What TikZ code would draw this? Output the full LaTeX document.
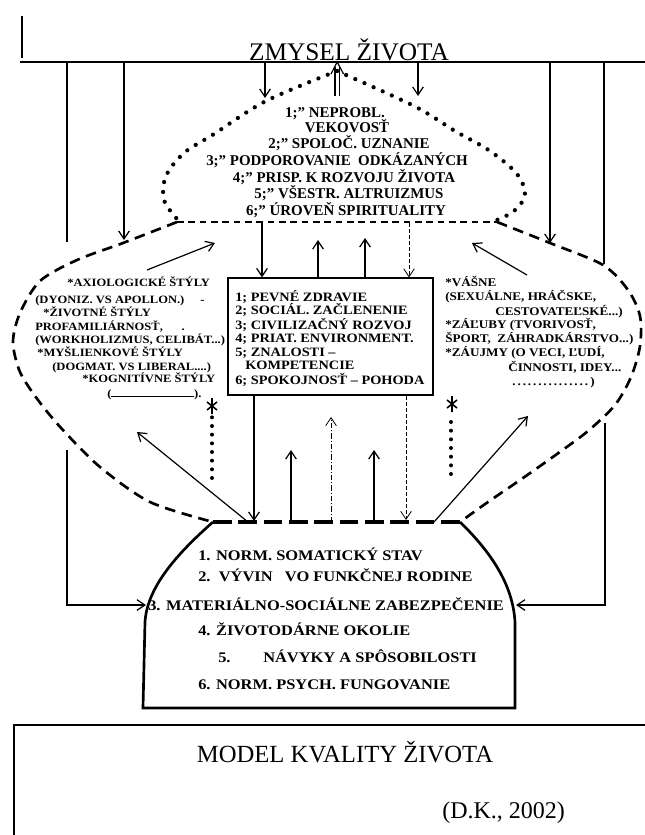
\documentclass[tikz,border=0pt]{standalone}
\usepackage{fontspec}
\setmainfont{Liberation Serif}
\newfontfamily\wf[FakeStretch=1.12]{Liberation Serif}
\usetikzlibrary{arrows.meta}
\begin{document}
\begin{tikzpicture}[x=0.75pt,y=-0.75pt,
  ln/.style={line width=0.9pt},
  arr/.style={line width=0.9pt,-{Straight Barb[length=6pt,width=8pt]}},
  farr/.style={line width=0.6pt,dash pattern=on 3pt off 1.5pt,-{Straight Barb[length=6pt,width=8pt]}},
  darr/.style={line width=0.6pt,dash pattern=on 4pt off 1.5pt on 0.8pt off 1.5pt,-{Straight Barb[length=6pt,width=8pt]}},
  hatdots/.style={line width=3.2pt,line cap=round,dash pattern=on 0pt off 7.5pt},
  vdots/.style={line width=3pt,line cap=round,dash pattern=on 0pt off 6.5pt},
  hatbase/.style={line width=2pt,dash pattern=on 5pt off 3.5pt},
  bigdash/.style={line width=2pt,dash pattern=on 8pt off 5pt},
  bottop/.style={line width=2.6pt,dash pattern=on 14pt off 5pt},
  botline/.style={line width=2pt},
  starln/.style={line width=1.2pt},
  ttl/.style={font=\fontsize{19}{21}\selectfont,anchor=base,inner sep=0},
  hatt/.style={font=\fontsize{11.2}{12}\selectfont\bfseries,anchor=base,inner sep=0},
  boxt/.style={font=\wf\fontsize{9.6}{11}\selectfont\bfseries,anchor=base west,inner sep=0},
  sidet/.style={font=\wf\fontsize{8.4}{10}\selectfont\bfseries,anchor=base west,inner sep=0},
  sider/.style={font=\wf\fontsize{8.8}{10}\selectfont\bfseries,anchor=base west,inner sep=0},
  bott/.style={font=\wf\fontsize{11}{12}\selectfont\bfseries,anchor=base west,inner sep=0}
]
\fill[white] (0,0) rectangle (645,835);
\useasboundingbox (0,0) rectangle (645,835);

% top frame
\coordinate (tl0) at (22,16); \coordinate (tl1) at (22,58);
\coordinate (hl0) at (20,62); \coordinate (hl1) at (645,62);
\draw[ln] (tl0) -- (tl1);
\draw[ln] (hl0) -- (hl1);
\node[ttl] (zmysel) at (349,60) {ZMYSEL ŽIVOTA};

% lines from top
\coordinate (a1s) at (67,62);  \coordinate (a1e) at (67,242);
\coordinate (a2s) at (124,62); \coordinate (a2e) at (124,240);
\coordinate (a3s) at (265,62); \coordinate (a3e) at (265,98);
\coordinate (a4s) at (418,62); \coordinate (a4e) at (418,96);
\coordinate (a5s) at (550,62); \coordinate (a5e) at (550,243);
\coordinate (a6s) at (604,62); \coordinate (a6e) at (604,264);
\draw[ln] (a1s) -- (a1e);
\draw[arr] (a2s) -- (a2e);
\draw[arr] (a3s) -- (a3e);
\draw[arr] (a4s) -- (a4e);
\draw[arr] (a5s) -- (a5e);
\draw[ln] (a6s) -- (a6e);

% double up arrow
\coordinate (u1) at (335,96); \coordinate (u2) at (335,67);
\coordinate (u3) at (339.5,96); \coordinate (u4) at (339.5,67);
\coordinate (uh1) at (331,74); \coordinate (uh) at (337.2,62); \coordinate (uh2) at (343.5,74);
\draw[ln] (u1) -- (u2);
\draw[ln] (u3) -- (u4);
\draw[ln] (uh1) -- (uh) -- (uh2);

% dotted hat
\draw[hatdots] plot[smooth,tension=0.55] coordinates {(337,71) (266,101) (214,134) (184,153) (166,176) (164,200) (177,219)};
\draw[hatdots] plot[smooth,tension=0.55] coordinates {(337,71) (414,106) (455,131) (490,151) (517,174) (525,195) (514,211) (497,220)};
\coordinate (hb0) at (177,222); \coordinate (hb1) at (497,222);
\draw[hatbase] (hb0) -- (hb1);

% hat text
\node[hatt] (h1) at (335,117) {1;" NEPROBL.};
\node[hatt] (h1b) at (347,132) {VEKOVOSŤ};
\node[hatt] (h2) at (349,148) {2;" SPOLOČ. UZNANIE};
\node[hatt] (h3) at (337,165) {3;" PODPOROVANIE\ \ ODKÁZANÝCH};
\node[hatt] (h4) at (344,182) {4;" PRISP. K ROZVOJU ŽIVOTA};
\node[hatt] (h5) at (349,198) {5;" VŠESTR. ALTRUIZMUS};
\node[hatt] (h6) at (346,215) {6;" ÚROVEŇ SPIRITUALITY};

% big dashed outline
\draw[bigdash] plot[smooth] coordinates {(177,222) (123,243) (77,260) (40,281) (20,313) (13,342) (20,372) (38,400) (62,429) (100,467) (150,502) (213,522)};
\draw[bigdash] plot[smooth] coordinates {(497,222) (550,243) (603,265) (628,290) (640,316) (640,346) (631,377) (615,405) (588,431) (557,454) (523,478) (488,502) (460,522)};

% centre box
\node[draw,ln,minimum width=153.75pt,minimum height=87.75pt,inner sep=0] (box) at (330.5,336.5) {};
\node[boxt] (k1) at (235,301.5) {1; PEVNÉ ZDRAVIE};
\node[boxt] (k2) at (235,314.5) {2; SOCIÁL. ZAČLENENIE};
\node[boxt] (k3) at (235,329.5) {3; CIVILIZAČNÝ ROZVOJ};
\node[boxt] (k4) at (235,342.5) {4; PRIAT. ENVIRONMENT.};
\node[boxt] (k5) at (235,356.5) {5; ZNALOSTI –};
\node[boxt] (k5b) at (245,369.5) {KOMPETENCIE};
\node[boxt] (k6) at (235,384.5) {6; SPOKOJNOSŤ – POHODA};

% arrows hat <-> box
\coordinate (b1s) at (262,223);
\coordinate (b2e) at (318,240);
\coordinate (b3e) at (365,238);
\coordinate (b4s) at (409,223);
\draw[arr] (b1s) -- (b1s |- box.north);
\draw[arr] (b2e |- box.north) -- (b2e);
\draw[arr] (b3e |- box.north) -- (b3e);
\draw[farr] (b4s) -- (b4s |- box.north);

% diagonal upper arrows
\coordinate (e1s) at (147,270); \coordinate (e1e) at (215,243);
\coordinate (e2s) at (527,275); \coordinate (e2e) at (472,243);
\draw[arr] (e1s) -- (e1e);
\draw[arr] (e2s) -- (e2e);

% left texts
\node[sidet] (l1) at (67,286) {*AXIOLOGICKÉ ŠTÝLY};
\node[sidet] (l2) at (35,303) {(DYONIZ. VS APOLLON.)\hspace{12pt}-};
\node[sidet] (l3) at (43,316) {*ŽIVOTNÉ ŠTÝLY};
\node[sidet] (l4) at (35,330) {PROFAMILIÁRNOSŤ,\hspace{14pt}.};
\node[sidet] (l5) at (35,343) {(WORKHOLIZMUS, CELIBÁT...)};
\node[sidet] (l6) at (37,356) {*MYŠLIENKOVÉ ŠTÝLY};
\node[sidet] (l7) at (52,370) {(DOGMAT. VS LIBERAL....)};
\node[sidet] (l8) at (82,382) {*KOGNITÍVNE ŠTÝLY};
\node[sidet] (l9) at (107,397) {(\makebox[62pt]{\hrulefill}).};

% right texts
\node[sider] (r1) at (445,286) {*VÁŠNE};
\node[sider] (r2) at (445,300) {(SEXUÁLNE, HRÁČSKE,};
\node[sider] (r3) at (495,315) {CESTOVATEĽSKÉ...)};
\node[sider] (r4) at (445,328) {*ZÁĽUBY (TVORIVOSŤ,};
\node[sider] (r5) at (445,342) {ŠPORT,\ \ ZÁHRADKÁRSTVO...)};
\node[sider] (r6) at (445,356) {*ZÁUJMY (O VECI, ĽUDÍ,};
\node[sider] (r7) at (508,371) {ČINNOSTI, IDEY...};
\node[sider] (r8) at (510,385) {\makebox[60pt]{\dotfill})};

% dotted verticals with asterisks
\coordinate (f1s) at (212,478); \coordinate (f1e) at (212,414);
\coordinate (f2s) at (451,474); \coordinate (f2e) at (451,414);
\draw[vdots] (f1s) -- (f1e);
\draw[vdots] (f2s) -- (f2e);
\coordinate (s1) at (212,406); \coordinate (s2) at (452,404);
\draw[starln] ([yshift=-6]s1) -- ([yshift=6]s1) ([shift={(-5,-4)}]s1) -- ([shift={(5,4)}]s1) ([shift={(-5,4)}]s1) -- ([shift={(5,-4)}]s1);
\draw[starln] ([yshift=-6]s2) -- ([yshift=6]s2) ([shift={(-5,-4)}]s2) -- ([shift={(5,4)}]s2) ([shift={(-5,4)}]s2) -- ([shift={(5,-4)}]s2);

% bottom shape
\coordinate (bs0) at (213,522); \coordinate (bs1) at (460,522);
\draw[bottop] (bs0) -- (bs1);
\draw[botline] (bs0) .. controls (172,558) and (147,590) .. (145,622) -- (143,708) -- (515,708) -- (515,622) .. controls (513,588) and (495,556) .. (bs1);

% box -> bottom shape
\coordinate (c1e) at (254,521);
\coordinate (c2e) at (406,520);
\draw[arr] (c1e |- box.south) -- (c1e);
\draw[farr] (c2e |- box.south) -- (c2e);

% bottom shape -> upward arrows
\coordinate (d1s) at (291,522); \coordinate (d1e) at (291,450);
\coordinate (d2s) at (331,522); \coordinate (d2e) at (331,417);
\coordinate (d3s) at (374,522); \coordinate (d3e) at (374,450);
\coordinate (d4s) at (248,522); \coordinate (d4e) at (137,432);
\coordinate (d5s) at (434,522); \coordinate (d5e) at (528,416);
\draw[arr] (d1s) -- (d1e);
\draw[darr] (d2s) -- (d2e);
\draw[arr] (d3s) -- (d3e);
\draw[arr] (d4s) -- (d4e);
\draw[arr] (d5s) -- (d5e);

% outer lower lines
\coordinate (g1s) at (67,450); \coordinate (g1m) at (67,605); \coordinate (g1e) at (146,605);
\coordinate (g2s) at (605,423); \coordinate (g2m) at (605,605); \coordinate (g2e) at (516,605);
\draw[arr] (g1s) -- (g1m) -- (g1e);
\draw[arr] (g2s) -- (g2m) -- (g2e);

% bottom shape text
\node[bott] (n1) at (198,560) {1. NORM. SOMATICKÝ STAV};
\node[bott] (n2) at (198,581) {2.\ \ VÝVIN\ \ \ VO FUNKČNEJ RODINE};
\node[bott] (n3) at (148,610) {3. MATERIÁLNO-SOCIÁLNE ZABEZPEČENIE};
\node[bott] (n4) at (198,635) {4. ŽIVOTODÁRNE OKOLIE};
\node[bott] (n5) at (218,662) {5.};
\node[bott] (n5b) at (263,662) {NÁVYKY A SPÔSOBILOSTI};
\node[bott] (n6) at (198,689) {6. NORM. PSYCH. FUNGOVANIE};

% lower frame
\coordinate (lf0) at (14,725); \coordinate (lf1) at (645,725); \coordinate (lf2) at (14,835);
\draw[ln] (lf1) -- (lf0) -- (lf2);
\node[ttl,font=\fontsize{18.5}{20}\selectfont] (model) at (345,762) {MODEL KVALITY ŽIVOTA};
\node[font=\fontsize{18}{20}\selectfont,anchor=base west,inner sep=0] (dk) at (442,818) {(D.K., 2002)};
\end{tikzpicture}
\end{document}
